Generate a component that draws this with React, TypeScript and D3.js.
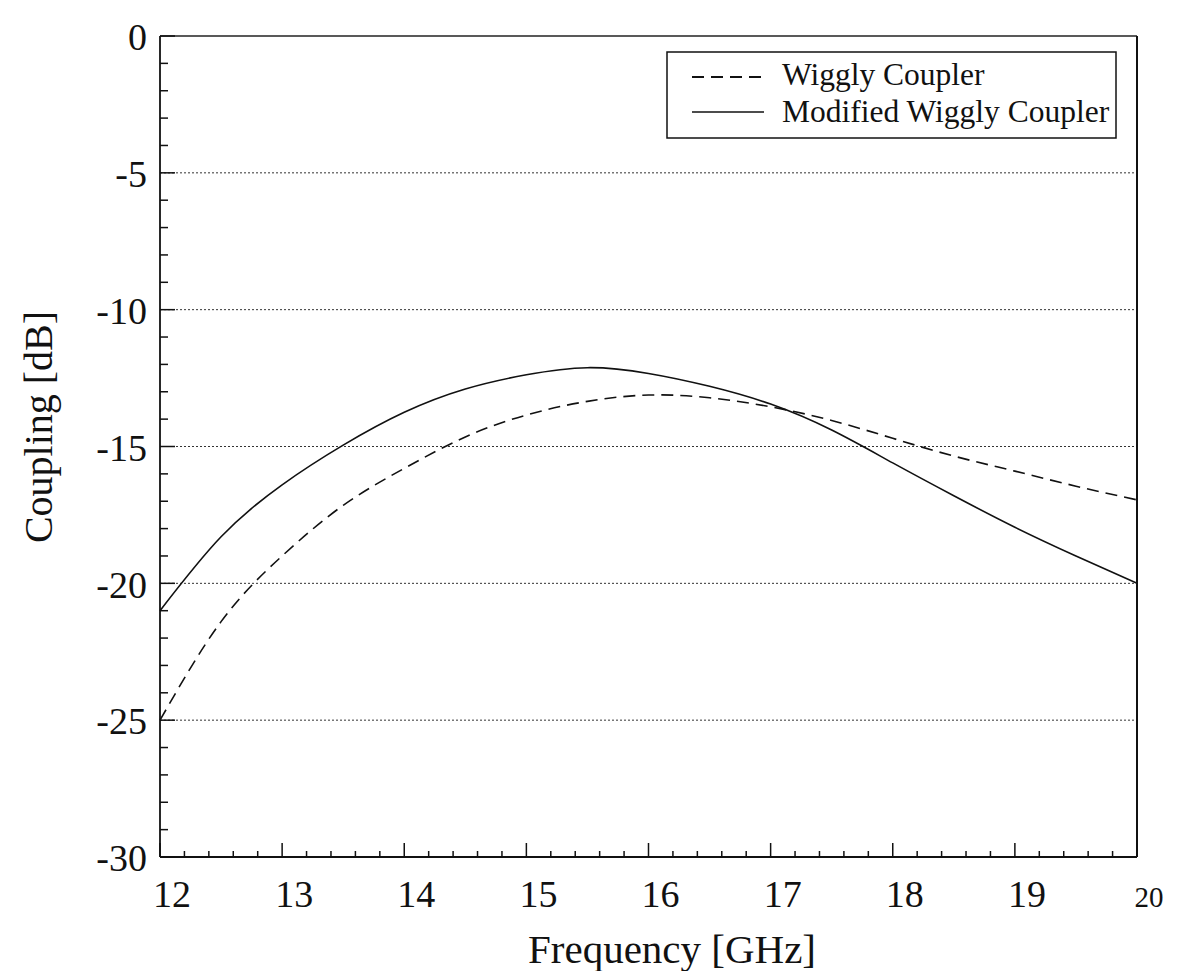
import React from "react";
import * as d3 from "d3";

const freq = [12, 12.5, 13, 13.5, 14, 14.5, 15, 15.5, 16, 16.5, 17, 17.5, 18, 18.5, 19, 19.5, 20];
const wiggly = [-25.0, -21.4, -19.0, -17.15, -15.8, -14.65, -13.85, -13.35, -13.12, -13.22, -13.55, -14.05, -14.7, -15.35, -15.9, -16.45, -16.95];
const modified = [-21.0, -18.3, -16.4, -14.95, -13.75, -12.9, -12.38, -12.12, -12.33, -12.8, -13.45, -14.4, -15.6, -16.8, -17.95, -19.0, -20.0];
const xTicks = [12, 13, 14, 15, 16, 17, 18, 19, 20];
const yTicks = [0, -5, -10, -15, -20, -25, -30];
const gridValues = [-5, -10, -15, -20, -25];
const legendLabels = ["Wiggly Coupler", "Modified Wiggly Coupler"];

export default function App() {
  const W = 1180, H = 971;
  const left = 160, right = 1137, top = 36, bottom = 857;
  const x = d3.scaleLinear().domain([12, 20]).range([left, right]);
  const y = d3.scaleLinear().domain([0, -30]).range([top, bottom]);
  const line = d3
    .line<number>()
    .x((_, i) => x(freq[i]))
    .y((v) => y(v))
    .curve(d3.curveNatural);

  const xMinor = d3.range(12, 20.001, 0.2).filter((v) => Math.abs(v - Math.round(v)) > 0.01);
  const yMinor = d3.range(0, -30.001, -1).filter((v) => Math.abs(v % 5) > 0.01);
  const font = "'Liberation Serif', 'Times New Roman', serif";

  return (
    <svg width={W} height={H} style={{ position: "absolute", left: 0, top: 0, background: "#fff" }} fontFamily={font}>
      <rect x={0} y={0} width={W} height={H} fill="#fff" />
      {gridValues.map((v) => (
        <line key={"g" + v} x1={left} x2={right} y1={y(v)} y2={y(v)} stroke="#333" strokeWidth={1} strokeDasharray="2,2" />
      ))}
      {/* frame */}
      <line x1={left} x2={right} y1={top} y2={top} stroke="#222" strokeWidth={1.5} />
      <line x1={right} x2={right} y1={top} y2={bottom} stroke="#111" strokeWidth={2} />
      <line x1={left} x2={left} y1={top} y2={bottom} stroke="#111" strokeWidth={1.8} />
      <line x1={left} x2={right} y1={bottom} y2={bottom} stroke="#111" strokeWidth={1.8} />
      {/* ticks */}
      {xTicks.map((t) => (
        <line key={"xt" + t} x1={x(t)} x2={x(t)} y1={bottom} y2={bottom - 14} stroke="#111" strokeWidth={1.5} />
      ))}
      {xMinor.map((t) => (
        <line key={"xm" + t} x1={x(t)} x2={x(t)} y1={bottom} y2={bottom - 6} stroke="#111" strokeWidth={1.5} />
      ))}
      {yTicks.map((t) => (
        <line key={"yt" + t} x1={left} x2={left + 15} y1={y(t)} y2={y(t)} stroke="#111" strokeWidth={1.5} />
      ))}
      {yMinor.map((t) => (
        <line key={"ym" + t} x1={left} x2={left + 8} y1={y(t)} y2={y(t)} stroke="#111" strokeWidth={1.5} />
      ))}
      {/* tick labels */}
      {xTicks.map((t) => (
        <text key={"xl" + t} x={x(t) + 12} y={907} textAnchor="middle" fontSize={t === 20 ? 29 : 38} fill="#111">
          {t}
        </text>
      ))}
      {yTicks.map((t) => (
        <text key={"yl" + t} x={147} y={y(t) + 1} dy="0.35em" textAnchor="end" fontSize={38} fill="#111">
          {t}
        </text>
      ))}
      {/* axis titles */}
      <text x={672} y={963} textAnchor="middle" fontSize={41} fill="#111">
        Frequency [GHz]
      </text>
      <text transform={`translate(52,427) rotate(-90)`} textAnchor="middle" fontSize={40} fill="#111">
        Coupling [dB]
      </text>
      {/* curves */}
      <path d={line(wiggly) || ""} fill="none" stroke="#111" strokeWidth={1.6} strokeDasharray="12,7" />
      <path d={line(modified) || ""} fill="none" stroke="#111" strokeWidth={1.6} />
      {/* legend */}
      <rect x={667} y={52} width={449} height={86} fill="#fff" stroke="#111" strokeWidth={1.5} />
      <line x1={692} x2={764} y1={77} y2={77} stroke="#111" strokeWidth={1.8} strokeDasharray="12,7" />
      <line x1={692} x2={764} y1={112} y2={112} stroke="#111" strokeWidth={1.3} />
      <text x={782} y={85} fontSize={31.5} fill="#111">
        {legendLabels[0]}
      </text>
      <text x={782} y={122} fontSize={31.5} fill="#111">
        {legendLabels[1]}
      </text>
    </svg>
  );
}
